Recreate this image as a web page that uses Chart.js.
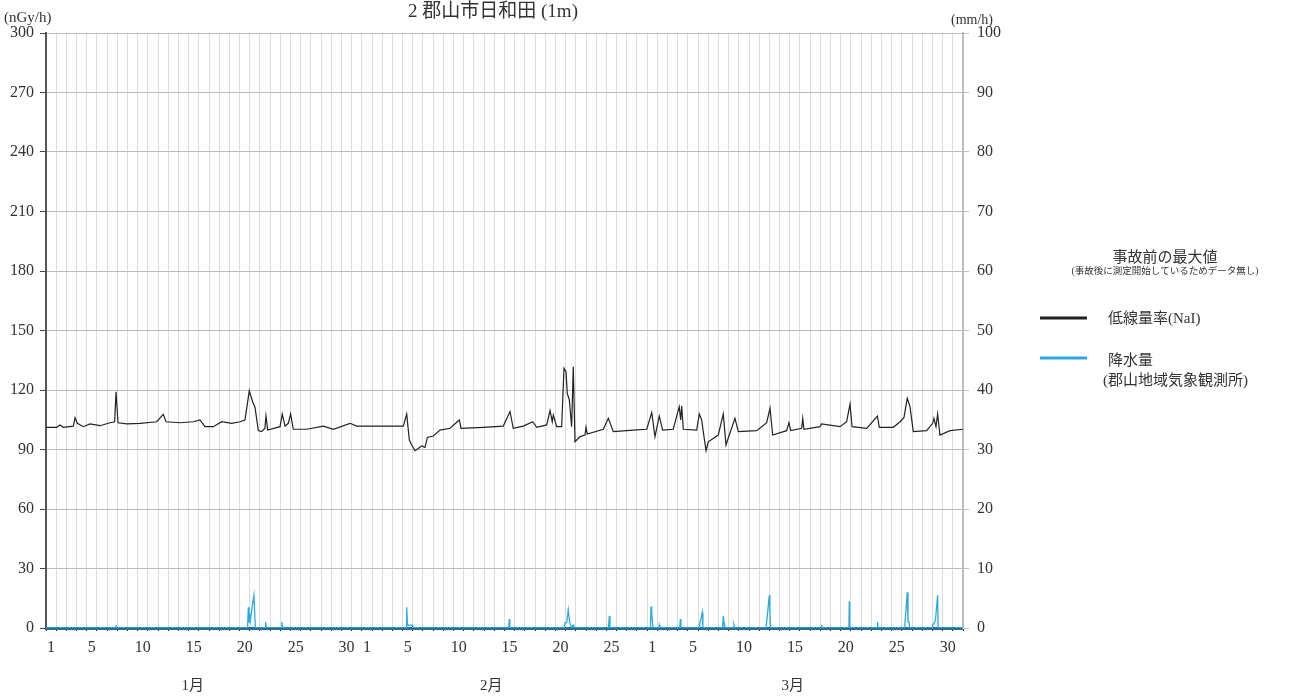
<!DOCTYPE html>
<html>
<head>
<meta charset="utf-8">
<script src="https://cdn.jsdelivr.net/npm/chart.js@4.4.0/dist/chart.umd.min.js"></script>
<style>
  body { margin: 0; background: #fff; }
  #wrap { width: 1292px; height: 697px; }
</style>
</head>
<body>
<div id="wrap"><canvas id="chart" width="1292" height="697"></canvas></div>
<script>
// months / days on the x axis
const monthNames = ['1月', '2月', '3月'];
const monthDays = [31, 28, 31];
const shownDays = [1, 5, 10, 15, 20, 25, 30];

// y axis ticks
const doseTicks = [0, 30, 60, 90, 120, 150, 180, 210, 240, 270, 300];
const rainTicks = [0, 10, 20, 30, 40, 50, 60, 70, 80, 90, 100];

// 低線量率(NaI), nGy/h  (time in days since 1/1 0:00)
const doseDay = [0.00, 1.05, 1.37, 1.70, 2.68, 2.85, 3.08, 3.66, 4.32, 5.30, 6.28, 6.74, 6.87, 7.07, 7.92,
  9.23, 10.86, 11.51, 11.78, 13.15, 14.46, 15.11, 15.60, 16.42, 17.24, 18.22, 19.04, 19.53, 19.95, 20.28,
  20.51, 20.84, 21.17, 21.49, 21.59, 21.76, 22.97, 23.19, 23.46, 23.78, 24.01, 24.27, 25.58, 27.22, 28.20,
  29.84, 30.49, 35.07, 35.40, 35.66, 35.89, 36.22, 36.87, 37.20, 37.43, 38.01, 38.67, 39.65, 40.57, 40.73,
  42.92, 44.88, 45.54, 45.86, 46.84, 47.77, 48.16, 49.14, 49.47, 49.69, 49.79, 50.12, 50.61, 50.84, 51.04,
  51.16, 51.36, 51.59, 51.75, 51.92, 52.41, 52.90, 53.00, 53.13, 54.70, 55.19, 55.68, 57.64, 58.96, 59.45,
  59.77, 60.19, 60.52, 61.56, 62.15, 62.29, 62.39, 62.55, 63.86, 64.12, 64.35, 64.58, 64.78, 65.00, 65.98,
  66.47, 66.74, 67.06, 67.62, 67.95, 69.75, 70.73, 71.06, 71.32, 72.69, 72.92, 73.09, 74.17, 74.27, 74.39,
  75.96, 76.13, 77.93, 78.58, 78.91, 79.11, 80.55, 81.60, 81.79, 83.16, 83.82, 84.21, 84.53, 84.80, 85.12,
  86.43, 87.02, 87.15, 87.35, 87.51, 87.74, 88.72, 89.97];
const doseVal = [101.2, 101.2, 102.4, 101.2, 101.8, 106.0, 103.2, 101.5, 102.9, 102.0, 103.5, 104.0, 119.1, 103.5, 102.9,
  103.2, 104.0, 107.7, 104.0, 103.5, 104.0, 104.9, 101.5, 101.5, 104.0, 103.2, 104.0, 104.9, 119.6, 114.1,
  111.3, 99.5, 99.0, 100.7, 106.9, 99.8, 101.5, 107.9, 101.8, 103.2, 107.9, 100.2, 100.2, 101.8, 100.2,
  103.2, 101.8, 101.8, 107.9, 94.8, 92.3, 89.4, 91.8, 91.1, 96.1, 96.8, 99.8, 100.7, 104.9, 100.7,
  101.2, 101.8, 109.1, 100.7, 101.8, 104.0, 101.2, 102.4, 109.6, 104.0, 107.4, 101.5, 101.5, 130.9, 129.2,
  118.3, 115.0, 101.5, 131.7, 93.9, 96.5, 97.3, 101.2, 97.8, 100.2, 105.7, 99.0, 99.8, 100.2, 108.6,
  96.5, 106.9, 99.8, 100.2, 111.6, 104.9, 111.9, 100.2, 99.8, 107.9, 104.9, 96.5, 89.4, 93.9, 97.3,
  107.9, 92.3, 97.3, 105.7, 99.0, 99.5, 103.5, 110.8, 97.3, 99.5, 103.5, 99.5, 100.7, 105.7, 100.2,
  101.5, 102.9, 101.5, 104.0, 112.9, 101.5, 100.7, 106.9, 101.2, 101.2, 104.0, 106.2, 115.8, 111.6, 99.0,
  99.5, 103.2, 105.7, 101.5, 107.9, 97.3, 99.5, 100.2];

// 降水量, mm/h
const rainDay = [0, 6.82, 6.87, 6.92, 19.78, 19.86, 19.92, 19.96, 20.05, 20.30, 20.41, 20.47, 20.55,
  21.50, 21.56, 21.62, 23.10, 23.16, 23.22, 35.35, 35.40, 35.48, 35.95, 36.00, 45.42, 45.47, 45.52,
  50.88, 50.94, 51.10, 51.26, 51.40, 51.60, 51.70, 51.80, 51.85, 55.20, 55.29, 55.35,
  59.33, 59.38, 59.45, 59.52, 59.60, 60.15, 60.19, 60.25, 62.20, 62.26, 62.32,
  64.12, 64.19, 64.30, 64.41, 64.47, 66.40, 66.47, 66.55, 66.60, 67.47, 67.52, 67.58,
  70.65, 70.73, 70.99, 71.05, 71.12, 76.10, 76.13, 76.18, 78.80, 78.84, 78.88, 81.57, 81.62, 81.67,
  84.25, 84.30, 84.53, 84.60, 84.70, 84.78, 86.97, 87.02, 87.20, 87.30, 87.51, 87.56, 90];
const rainVal = [0, 0, 0.5, 0, 0, 3.5, 0.9, 2.6, 1.2, 4.4, 5.5, 2.9, 0,
  0, 1.0, 0, 0, 1.0, 0, 0, 3.5, 0.5, 0.5, 0, 0, 1.5, 0,
  0, 0.9, 0.9, 3.0, 0.9, 0, 0.5, 0.5, 0, 0, 2.0, 0,
  0, 3.6, 2.5, 0.9, 0, 0, 0.5, 0, 0, 1.5, 0,
  0, 1.0, 1.7, 2.6, 0, 0, 2.0, 0.8, 0, 0, 0.5, 0,
  0, 1.0, 5.5, 2.5, 0, 0, 0.5, 0, 0, 4.5, 0, 0, 1.0, 0,
  0, 0.8, 6.0, 1.0, 1.0, 0, 0, 0.5, 0.9, 1.4, 5.5, 0, 0];

const dayLabels = [];
monthDays.forEach(n => { for (let d = 1; d <= n; d++) dayLabels.push(String(d)); });
const totalDays = dayLabels.length;

const FONT = '"Liberation Serif", "Noto Sans CJK JP", serif';

const textPlugin = {
  id: 'texts',
  afterDraw(chart) {
    const ctx = chart.ctx;
    const xd = chart.scales.xd;
    ctx.save();
    ctx.fillStyle = '#333';
    ctx.textBaseline = 'middle';
    ctx.textAlign = 'center';
    ctx.font = '19px ' + FONT;
    ctx.fillText('2 郡山市日和田 (1m)', 493, 12);

    ctx.font = '15px ' + FONT;
    ctx.textAlign = 'left';
    ctx.fillText('(nGy/h)', 4, 18);
    ctx.font = '14px ' + FONT;
    ctx.fillText('(mm/h)', 951, 20);

    // month labels under the day ticks
    ctx.font = '15px ' + FONT;
    ctx.textAlign = 'center';
    const monthPos = [14.4, 43.7, 73.3];
    monthNames.forEach((m, i) => ctx.fillText(m, xd.getPixelForValue(monthPos[i]), 686));

    // legend
    ctx.fillText('事故前の最大値', 1165, 258);
    ctx.font = '9.5px ' + FONT;
    ctx.fillText('(事故後に測定開始しているためデータ無し)', 1165, 271);
    ctx.font = '15px ' + FONT;
    ctx.textAlign = 'left';
    ctx.fillText('低線量率(NaI)', 1108, 319);
    ctx.fillText('降水量', 1108, 361);
    ctx.fillText('(郡山地域気象観測所)', 1103, 381);

    ctx.lineWidth = 3;
    ctx.strokeStyle = '#222';
    ctx.beginPath(); ctx.moveTo(1040, 318); ctx.lineTo(1087, 318); ctx.stroke();
    ctx.strokeStyle = '#29abe2';
    ctx.beginPath(); ctx.moveTo(1040, 358); ctx.lineTo(1087, 358); ctx.stroke();
    ctx.restore();
  }
};

new Chart(document.getElementById('chart').getContext('2d'), {
  type: 'line',
  data: {
    datasets: [
      {
        label: '降水量',
        data: rainDay.map((d, i) => ({ x: d, y: rainVal[i] })),
        xAxisID: 'xd',
        yAxisID: 'y1',
        borderColor: '#29abe2',
        borderWidth: 1.3,
        pointRadius: 0,
        tension: 0,
        order: 0
      },
      {
        label: '低線量率(NaI)',
        data: doseDay.map((d, i) => ({ x: d, y: doseVal[i] })),
        xAxisID: 'xd',
        yAxisID: 'y',
        borderColor: '#222',
        borderWidth: 1.2,
        pointRadius: 0,
        tension: 0,
        order: 1
      }
    ]
  },
  options: {
    responsive: false,
    animation: false,
    layout: { padding: { top: 33, right: 289, bottom: 0, left: 0 } },
    plugins: { legend: { display: false }, tooltip: { enabled: false } },
    scales: {
      x: {
        type: 'category',
        labels: dayLabels,
        offset: true,
        grid: { offset: true, color: '#dcdcdc', tickColor: '#222', tickLength: 3, lineWidth: 1 },
        border: { color: '#2a6f90', width: 3 },
        ticks: {
          autoSkip: false, maxRotation: 0, padding: 7, color: '#333',
          font: { family: FONT, size: 16 },
          callback: function (v) {
            const l = this.getLabelForValue(v);
            return shownDays.includes(+l) ? l : '';
          }
        },
        afterFit: s => { s.height = 69; }
      },
      xd: { type: 'linear', min: 0, max: totalDays, display: false },
      y: {
        position: 'left',
        min: 0, max: 300,
        afterBuildTicks: s => { s.ticks = doseTicks.map(v => ({ value: v })); },
        grid: { color: '#bdbdbd', tickColor: '#444', tickLength: 6 },
        border: { color: '#555', width: 2 },
        ticks: { padding: 6, color: '#333', font: { family: FONT, size: 16 } },
        afterFit: s => { s.width = 46; }
      },
      y1: {
        position: 'right',
        min: 0, max: 100,
        afterBuildTicks: s => { s.ticks = rainTicks.map(v => ({ value: v })); },
        grid: { drawOnChartArea: false, color: '#bdbdbd', tickLength: 6 },
        border: { color: '#bdbdbd', width: 2 },
        ticks: { padding: 8, color: '#333', font: { family: FONT, size: 16 } },
        afterFit: s => { s.width = 40; }
      }
    }
  },
  plugins: [textPlugin]
});
</script>
</body>
</html>
